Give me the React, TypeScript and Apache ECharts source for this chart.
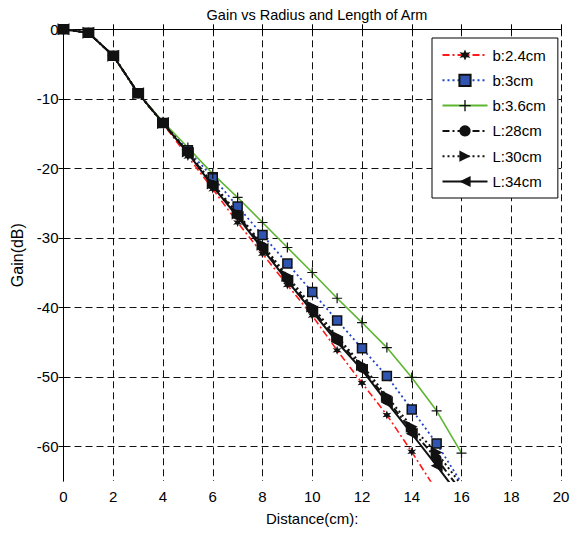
import React, { useEffect, useRef } from "react";
import * as echarts from "echarts";

const distance = [0, 1, 2, 3, 4, 5, 6, 7, 8, 9, 10, 11, 12, 13, 14, 15, 16];
const xTicks = [0, 2, 4, 6, 8, 10, 12, 14, 16, 18, 20];
const yTicks = [-60, -50, -40, -30, -20, -10, 0];

const gainB24 = [0, -0.5, -3.8, -9.2, -13.6, -18.3, -23.0, -27.8, -32.3, -36.8, -41.2, -46.2, -50.9, -55.5, -60.8, -66.4];
const gainB3 = [0, -0.5, -3.8, -9.2, -13.5, -17.4, -21.3, -25.5, -29.6, -33.7, -37.8, -41.9, -45.9, -49.9, -54.7, -59.6, -65.3];
const gainB36 = [0, -0.5, -3.8, -9.2, -13.3, -17.0, -20.8, -24.2, -27.8, -31.4, -35.0, -38.7, -42.2, -45.8, -50.1, -54.9, -61.0];
const gainL28 = [0, -0.5, -3.8, -9.2, -13.5, -17.7, -22.4, -26.7, -31.3, -35.9, -40.3, -44.6, -48.7, -53.3, -57.7, -61.8, -66.5];
const gainL30 = [0, -0.5, -3.8, -9.2, -13.5, -17.6, -22.2, -26.5, -31.0, -35.5, -39.9, -44.2, -48.3, -52.8, -57.2, -60.9, -65.6];
const gainL34 = [0, -0.5, -3.8, -9.2, -13.5, -17.8, -22.6, -27.0, -31.6, -36.2, -40.6, -45.0, -49.0, -53.7, -58.2, -62.8, -67.5];

const seriesNames = ["b:2.4cm", "b:3cm", "b:3.6cm", "L:28cm", "L:30cm", "L:34cm"];

const STAR = "path://M0,-5L1.1,-1.9L4.33,-2.5L2.2,0L4.33,2.5L1.1,1.9L0,5L-1.1,1.9L-4.33,2.5L-2.2,0L-4.33,-2.5L-1.1,-1.9Z";
const PLUS = "path://M-0.6,-5H0.6V-0.6H5V0.6H0.6V5H-0.6V0.6H-5V-0.6H-0.6Z";
const TRI_RIGHT = "path://M0,0L10,5L0,10Z";
const TRI_LEFT = "path://M10,0L0,5L10,10Z";

const FONT = "Liberation Sans, Arial, Helvetica, sans-serif";

function pairs(ys: number[]) {
  return ys.map((y, i) => [distance[i], y]);
}

export default function App() {
  const ref = useRef<HTMLDivElement>(null);
  useEffect(() => {
    if (!ref.current) return;
    const chart = echarts.init(ref.current, undefined, { renderer: "svg" });
    const axisLine = { show: true, lineStyle: { color: "#000", width: 1 } };
    const gridLine = { show: true, lineStyle: { color: "#111", width: 1, type: [7, 4] as any } };
    const mk = (
      name: string,
      ys: number[],
      lineColor: string,
      lineType: any,
      lineWidth: number,
      symbol: string,
      symbolSize: number,
      fill: string,
      border?: string
    ) => ({
      name,
      type: "line",
      data: pairs(ys),
      symbol,
      symbolSize,
      showAllSymbol: true,
      clip: true,
      lineStyle: { color: lineColor, type: lineType, width: lineWidth },
      itemStyle: border
        ? { color: fill, borderColor: border, borderWidth: 1.5 }
        : { color: fill, borderWidth: 0 },
      emphasis: { disabled: true },
    });
    chart.setOption({
      animation: false,
      textStyle: { fontFamily: FONT },
      title: {
        text: "Gain vs Radius and Length of Arm",
        left: 312,
        top: 2,
        textAlign: "center",
        textStyle: { fontSize: 14.5, fontWeight: "normal", color: "#000", fontFamily: FONT },
      },
      grid: { left: 63.5, right: 18, top: 29.3, bottom: 52, containLabel: false },
      legend: {
        orient: "vertical",
        left: 432,
        top: 38,
        padding: [9.5, 12, 9, 9.5],
        itemWidth: 45,
        itemHeight: 14,
        itemGap: 10.3,
        backgroundColor: "#fff",
        borderColor: "#000",
        borderWidth: 1,
        borderRadius: 0,
        textStyle: { fontSize: 15, color: "#000", fontFamily: FONT },
        data: seriesNames,
      },
      xAxis: [
        {
          type: "value",
          min: 0,
          max: 20,
          interval: 2,
          name: "Distance(cm):",
          nameLocation: "middle",
          nameGap: 30,
          nameTextStyle: { fontSize: 15, color: "#000", fontFamily: FONT },
          axisLine,
          axisTick: { show: true, inside: true, length: 5, lineStyle: { color: "#000" } },
          axisLabel: { show: true, fontSize: 15, color: "#000", margin: 8, fontFamily: FONT, customValues: xTicks },
          splitLine: gridLine,
        },
        {
          type: "value",
          position: "top",
          min: 0,
          max: 20,
          interval: 2,
          axisLine,
          axisTick: { show: true, inside: true, length: 5, lineStyle: { color: "#000" } },
          axisLabel: { show: false },
          splitLine: { show: false },
        },
      ],
      yAxis: [
        {
          type: "value",
          min: -65,
          max: 0,
          name: "Gain(dB)",
          nameLocation: "middle",
          nameGap: 33.5,
          nameRotate: 90,
          nameTextStyle: { fontSize: 16, color: "#000", fontFamily: FONT },
          axisLine,
          axisTick: { show: true, inside: true, length: 5, lineStyle: { color: "#000" }, customValues: yTicks },
          axisLabel: { show: true, fontSize: 15, color: "#000", margin: 5, fontFamily: FONT, customValues: yTicks },
          splitLine: gridLine,
        },
        {
          type: "value",
          position: "right",
          min: -65,
          max: 0,
          axisLine,
          axisTick: { show: true, inside: true, length: 5, lineStyle: { color: "#000" }, customValues: yTicks },
          axisLabel: { show: false },
          splitLine: { show: false },
        },
      ],
      series: [
        mk(seriesNames[0], gainB24, "#ff1a1a", [7, 3, 2, 3], 1.6, STAR, 9, "#111"),
        mk(seriesNames[1], gainB3, "#1f45c8", [2, 3], 1.8, "rect", 9, "#2f55b0", "#111"),
        mk(seriesNames[2], gainB36, "#5db531", "solid", 1.6, PLUS, 10, "#111"),
        mk(seriesNames[3], gainL28, "#111", [7, 3, 2, 3], 2, "circle", 10, "#111"),
        mk(seriesNames[4], gainL30, "#111", [2, 3], 2, TRI_RIGHT, 12, "#111"),
        mk(seriesNames[5], gainL34, "#111", "solid", 2, TRI_LEFT, 12, "#111"),
      ],
    });
    return () => chart.dispose();
  }, []);
  return (
    <div
      ref={ref}
      style={{ position: "fixed", left: 0, top: 0, width: 579, height: 533, background: "#fff" }}
    />
  );
}
